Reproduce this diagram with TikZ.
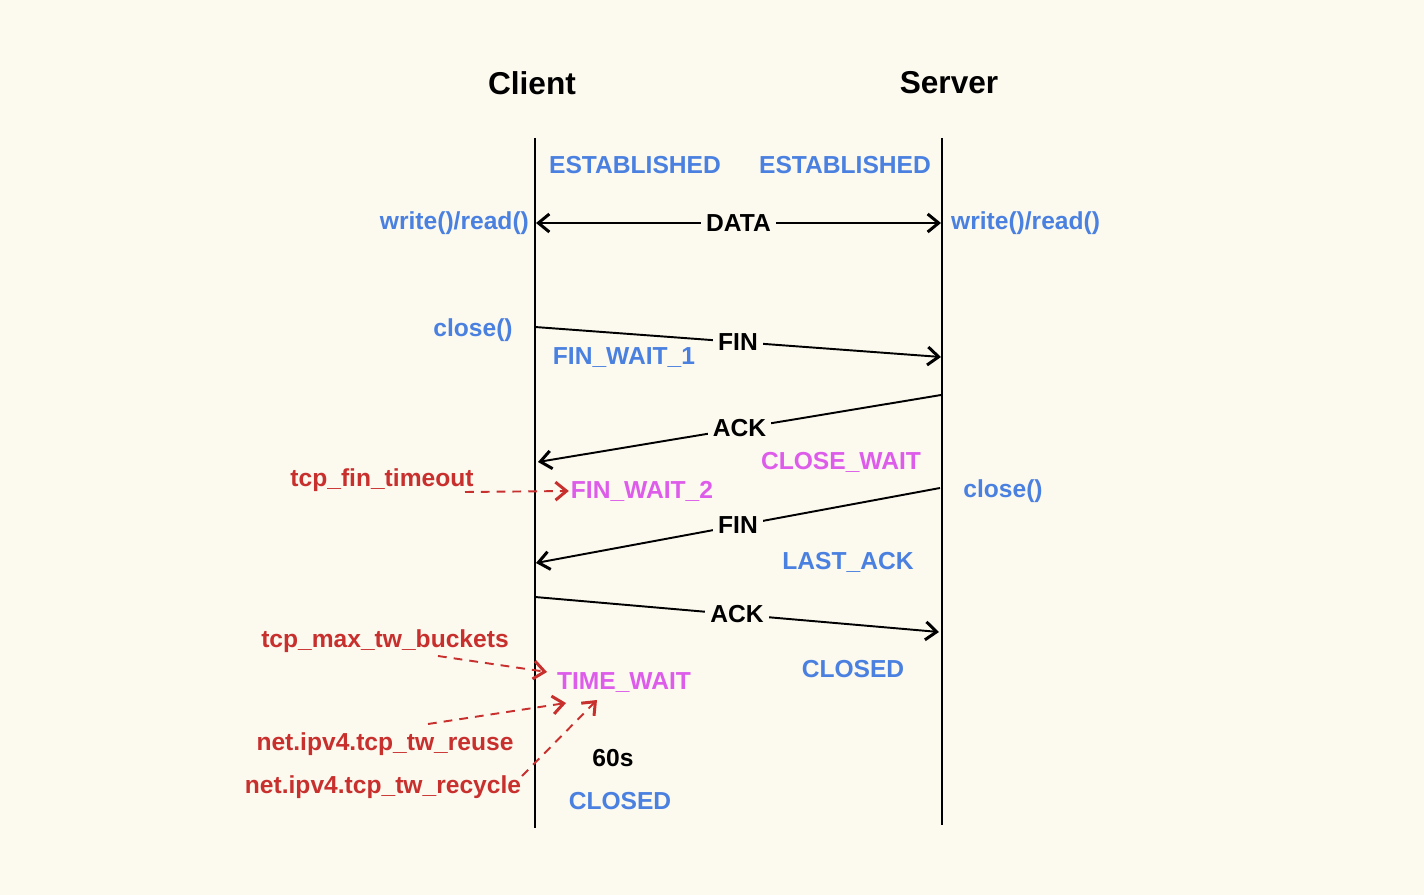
\documentclass[tikz,border=0pt]{standalone}
\usepackage{fontspec}
\setmainfont{Liberation Sans}
\usepackage{xcolor}
\usetikzlibrary{arrows.meta, positioning, calc}

\definecolor{paper}{HTML}{FCF9EF}
\definecolor{stblue}{HTML}{4A80E0}
\definecolor{stpink}{HTML}{DD5CEA}
\definecolor{stred}{HTML}{C8302E}

\begin{document}
\begin{tikzpicture}[
    x=0.02cm, y=-0.02cm,
    >={Straight Barb[length=2.2mm, width=3.6mm, line width=1.7pt]},
    head/.style={font=\fontsize{18}{20}\selectfont\bfseries},
    st/.style={font=\fontsize{14}{16}\selectfont\bfseries, text=#1, inner sep=1pt},
    st/.default=stblue,
    knob/.style={font=\fontsize{14}{16}\selectfont\bfseries, text=stred, inner sep=1pt},
    msg/.style={font=\fontsize{14}{16}\selectfont\bfseries, fill=paper, inner sep=3pt},
    life/.style={line width=0.8pt},
    arr/.style={->, line width=1.1pt},
    tune/.style={->, stred, line width=1.1pt, dash pattern=on 5pt off 4pt}
]
\fill[paper] (0,0) rectangle (1424,895);
\useasboundingbox (0,0) rectangle (1424,895);

% lifelines
\node[head] (client) at (532,83) {Client};
\node[head] (server) at (949,83) {Server};
\coordinate (ctop) at (535,138);
\coordinate (cbot) at (535,828);
\coordinate (stop) at (942,138);
\coordinate (sbot) at (942,825);
\draw[life] (ctop) -- (cbot);
\draw[life] (stop) -- (sbot);

% message end points
\coordinate (d1) at (536,223);
\coordinate (d2) at (941,223);
\coordinate (f1a) at (535,327);
\coordinate (f1b) at (941,357);
\coordinate (a1a) at (941,395);
\coordinate (a1b) at (538,462);
\coordinate (f2a) at (940,488);
\coordinate (f2b) at (536,563);
\coordinate (a2a) at (535,597);
\coordinate (a2b) at (939,632);

% states
\node[st] (estc) at (635,165) {ESTABLISHED};
\node[st] (ests) at (845,165) {ESTABLISHED};
\node[st, anchor=east] (wrc) at (531,223) {write()/read()};
\node[st, anchor=west] (wrs) at (949,223) {write()/read()};
\node[st] (closec) at (473,330) {close()};
\node[st] (fw1) at (624,358) {FIN\_WAIT\_1};
\node[st=stpink] (cw) at (841,462) {CLOSE\_WAIT};
\node[st=stpink] (fw2) at (642,491) {FIN\_WAIT\_2};
\node[st] (closes) at (1003,491) {close()};
\node[st] (lack) at (848,562) {LAST\_ACK};
\node[st] (cls) at (853,669) {CLOSED};
\node[st=stpink] (tw) at (624,683) {TIME\_WAIT};
\node[font=\fontsize{14}{16}\selectfont\bfseries] (wait) at (613,758) {60s};
\node[st] (clc) at (620,801) {CLOSED};

% messages
\draw[arr, <->] (d1) -- node[msg] (data) {DATA} (d2);
\draw[arr] (f1a) -- node[msg] (fin1) {FIN} (f1b);
\draw[arr] (a1a) -- node[msg] (ack1) {ACK} (a1b);
\draw[arr] (f2a) -- node[msg] (fin2) {FIN} (f2b);
\draw[arr] (a2a) -- node[msg] (ack2) {ACK} (a2b);

% kernel knobs
\node[knob] (fto) at (382,480) {tcp\_fin\_timeout};
\node[knob] (mtb) at (385,641) {tcp\_max\_tw\_buckets};
\node[knob] (reuse) at (385,744) {net.ipv4.tcp\_tw\_reuse};
\node[knob] (recyc) at (383,787) {net.ipv4.tcp\_tw\_recycle};

\coordinate (fto-out) at (465,492);
\coordinate (mtb-out) at (438,656);
\coordinate (reuse-out) at (428,724);
\coordinate (recyc-out) at (522,776);
\coordinate (tw-in1) at (547,672);
\coordinate (tw-in2) at (566,703);
\coordinate (tw-in3) at (597,700);

\draw[tune] (fto-out) -- (fw2.west);
\draw[tune] (mtb-out) -- (tw-in1);
\draw[tune] (reuse-out) -- (tw-in2);
\draw[tune] (recyc-out) -- (tw-in3);

\end{tikzpicture}
\end{document}
